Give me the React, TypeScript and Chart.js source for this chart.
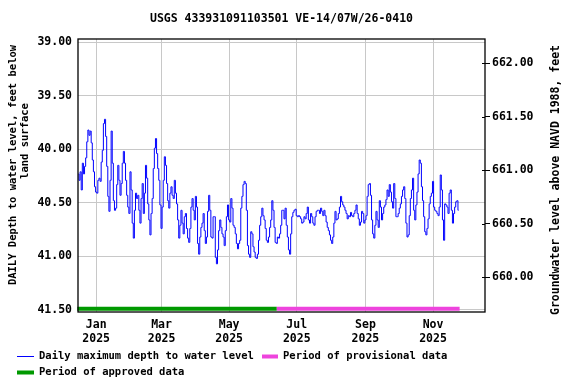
import React, { useEffect, useRef } from "react";
import { Chart, registerables } from "chart.js";

Chart.register(...registerables);

const TITLE = "USGS 433931091103501 VE-14/07W/26-0410";
const leftAxisTitle = ["DAILY Depth to water level, feet below", "land surface"];
const rightAxisTitle = "Groundwater level above NAVD 1988, feet";
const legendLabels = [
  "Daily maximum depth to water level",
  "Period of provisional data",
  "Period of approved data",
];

const seriesStart = "2024-12-16";
const dailyMaxDepthFt = [
  40.23, 40.29, 40.21, 40.38, 40.13, 40.23, 40.16, 40.08, 39.93, 39.82, 39.87, 39.83, 39.94, 40.10, 40.21, 40.35,
  40.40, 40.41, 40.29, 40.27, 40.30, 40.12, 40.01, 39.76, 39.72, 39.88, 40.16, 40.44, 40.58, 40.29, 39.83, 40.13,
  40.48, 40.57, 40.55, 40.33, 40.15, 40.29, 40.43, 40.32, 40.13, 40.02, 40.13, 40.29, 40.43, 40.54, 40.60, 40.21,
  40.38, 40.69, 40.83, 40.57, 40.41, 40.46, 40.43, 40.57, 40.69, 40.46, 40.32, 40.60, 40.41, 40.15, 40.27, 40.51,
  40.66, 40.80, 40.60, 40.46, 40.18, 39.99, 39.90, 40.04, 40.18, 40.29, 40.52, 40.74, 40.54, 40.29, 40.07, 40.15,
  40.32, 40.48, 40.55, 40.41, 40.35, 40.43, 40.46, 40.29, 40.41, 40.51, 40.66, 40.83, 40.71, 40.57, 40.69, 40.79,
  40.63, 40.60,
  40.74, 40.83, 40.87, 40.74, 40.54, 40.46, 40.57, 40.66, 40.44, 40.54, 40.88, 40.98, 40.82, 40.73, 40.69, 40.60,
  40.76, 40.88, 40.82, 40.58, 40.43, 40.57, 40.82, 40.83, 40.63, 40.63, 41.01, 41.07, 40.94, 40.76, 40.66, 40.73,
  40.79, 40.82, 40.90, 40.76, 40.63, 40.52, 40.66, 40.68, 40.46, 40.55, 40.71, 40.73, 40.79, 40.88, 40.93, 40.88,
  40.85, 40.55,
  40.44, 40.33, 40.30, 40.32, 40.57, 40.90, 40.98, 41.01, 40.77, 40.79, 40.91, 40.96, 41.01, 41.02, 40.98, 40.85,
  40.71, 40.63, 40.55, 40.62, 40.66, 40.74, 40.85, 40.87, 40.82, 40.73, 40.66, 40.48, 40.57, 40.73, 40.87, 40.88,
  40.82, 40.83, 40.79, 40.71, 40.57, 40.57, 40.65, 40.55, 40.71, 40.82, 40.94, 40.98, 40.79, 40.63, 40.59, 40.57,
  40.56,
  40.62, 40.63, 40.62, 40.63, 40.65, 40.69, 40.68, 40.63, 40.65, 40.60, 40.54, 40.66, 40.69, 40.60, 40.63, 40.69,
  40.71, 40.63, 40.58, 40.57, 40.57, 40.60, 40.55, 40.58, 40.62, 40.57, 40.62, 40.68, 40.73, 40.76, 40.80, 40.85,
  40.88, 40.82, 40.69, 40.58, 40.66, 40.65, 40.60, 40.54, 40.44, 40.49, 40.52, 40.54, 40.57, 40.60, 40.65, 40.62,
  40.63, 40.59,
  40.62, 40.63, 40.60, 40.57, 40.52, 40.60, 40.65, 40.71, 40.68, 40.58, 40.60, 40.69, 40.66, 40.62, 40.44, 40.33,
  40.32, 40.43, 40.66, 40.79, 40.83, 40.71, 40.58, 40.66, 40.73, 40.48, 40.54, 40.66, 40.60, 40.54, 40.52, 40.47,
  40.38, 40.44, 40.33, 40.40, 40.49, 40.55, 40.32, 40.46, 40.63, 40.63, 40.60, 40.55, 40.51, 40.44, 40.38, 40.35,
  40.46, 40.69,
  40.82, 40.80, 40.62, 40.46, 40.38, 40.27, 40.57, 40.66, 40.52, 40.40, 40.23, 40.10, 40.13, 40.35, 40.48, 40.63,
  40.77, 40.80, 40.74, 40.65, 40.51, 40.44, 40.41, 40.30, 40.54, 40.57, 40.58, 40.60, 40.62, 40.54, 40.24, 40.38,
  40.66, 40.85, 40.51, 40.52, 40.54, 40.60, 40.41, 40.38, 40.57, 40.69, 40.60, 40.54, 40.49, 40.48, 40.57,
];

const approvedPeriod = ["2024-12-15", "2025-06-13"];
const provisionalPeriod = ["2025-06-13", "2025-11-25"];
const monthTickDates = ["2025-01-01", "2025-03-01", "2025-05-01", "2025-07-01", "2025-09-01", "2025-11-01"];
const monthTickLabels = ["Jan", "Mar", "May", "Jul", "Sep", "Nov"];
const yearLabel = "2025";
const depthTicks = [39.0, 39.5, 40.0, 40.5, 41.0, 41.5];
const elevationTicks = [660.0, 660.5, 661.0, 661.5, 662.0];
const datumSum = 701.195; // elevation = datumSum - depth
const periodBarDepth = 41.49;

const dayOf = (iso: string) => {
  const [y, m, d] = iso.split("-").map(Number);
  return (Date.UTC(y, m - 1, d) - Date.UTC(2025, 0, 1)) / 86400000;
};

const X_MIN = -16.4;
const X_MAX = 350.9;
const Y_MIN = 38.97;
const Y_MAX = 41.52;

const FONT = "'DejaVu Sans Mono', monospace";
const BLUE = "#0000ff";
const GREEN = "#009900";
const PINK = "#ee44dd";

const decor = {
  id: "decor",
  afterDraw(chart: any) {
    const { ctx, chartArea: a } = chart;
    ctx.save();
    ctx.strokeStyle = "#000";
    ctx.lineWidth = 1.3;
    ctx.strokeRect(a.left, a.top, a.right - a.left, a.bottom - a.top);

    const y2 = chart.scales.y2;
    ctx.lineWidth = 1;
    elevationTicks.forEach((v) => {
      const py = Math.round(y2.getPixelForValue(v)) + 0.5;
      ctx.beginPath();
      ctx.moveTo(a.right - 3, py);
      ctx.lineTo(a.right, py);
      ctx.stroke();
    });

    ctx.fillStyle = "#000";
    ctx.textBaseline = "middle";
    ctx.textAlign = "center";
    ctx.font = `bold 11.5px ${FONT}`;
    ctx.fillText(TITLE, (a.left + a.right) / 2, 19);

    ctx.font = `bold 10.5px ${FONT}`;
    ctx.save();
    ctx.translate(13, 165);
    ctx.rotate(-Math.PI / 2);
    ctx.fillText(leftAxisTitle[0], 0, 0);
    ctx.restore();
    ctx.save();
    ctx.translate(25, 141);
    ctx.rotate(-Math.PI / 2);
    ctx.fillText(leftAxisTitle[1], 0, 0);
    ctx.restore();

    ctx.font = `bold 11.5px ${FONT}`;
    ctx.save();
    ctx.translate(556, 180);
    ctx.rotate(-Math.PI / 2);
    ctx.fillText(rightAxisTitle, 0, 0);
    ctx.restore();

    ctx.font = `bold 10.5px ${FONT}`;
    ctx.textAlign = "left";
    const row1 = 356.5;
    const row2 = 372.5;
    ctx.strokeStyle = BLUE;
    ctx.lineWidth = 1;
    ctx.beginPath();
    ctx.moveTo(17, row1);
    ctx.lineTo(34, row1);
    ctx.stroke();
    ctx.fillText(legendLabels[0], 39, row1);

    ctx.strokeStyle = PINK;
    ctx.lineWidth = 4;
    ctx.beginPath();
    ctx.moveTo(262, row1);
    ctx.lineTo(278, row1);
    ctx.stroke();
    ctx.fillText(legendLabels[1], 283, row1);

    ctx.strokeStyle = GREEN;
    ctx.beginPath();
    ctx.moveTo(17, row2);
    ctx.lineTo(34, row2);
    ctx.stroke();
    ctx.fillText(legendLabels[2], 39, row2);
    ctx.restore();
  },
};

export default function App() {
  const ref = useRef<HTMLCanvasElement>(null);
  useEffect(() => {
    const start = dayOf(seriesStart);
    const seriesPoints = dailyMaxDepthFt.map((v, i) => ({ x: start + i, y: v }));
    const barPoints = (p: string[]) => p.map((d) => ({ x: dayOf(d), y: periodBarDepth }));
    const tickFont = { family: FONT, size: 11.5, weight: "bold" as const };

    const chart = new Chart(ref.current!, {
      type: "line",
      data: {
        datasets: [
          {
            label: legendLabels[0],
            data: seriesPoints,
            borderColor: BLUE,
            borderWidth: 1,
            pointRadius: 0,
            stepped: "middle",
            yAxisID: "y",
          },
          {
            label: legendLabels[1],
            data: barPoints(provisionalPeriod),
            borderColor: PINK,
            borderWidth: 4,
            pointRadius: 0,
            borderCapStyle: "butt",
            clip: false as any,
            yAxisID: "y",
          },
          {
            label: legendLabels[2],
            data: barPoints(approvedPeriod),
            borderColor: GREEN,
            borderWidth: 4,
            pointRadius: 0,
            borderCapStyle: "butt",
            clip: false as any,
            yAxisID: "y",
          },
        ],
      },
      options: {
        animation: false,
        responsive: false,
        parsing: false as any,
        layout: { padding: { top: 39, left: 0, right: 0, bottom: 0 } },
        plugins: {
          legend: { display: false },
          title: { display: false },
          tooltip: { enabled: false },
        },
        scales: {
          x: {
            type: "linear",
            min: X_MIN,
            max: X_MAX,
            afterBuildTicks: (s: any) => {
              s.ticks = monthTickDates.map((d) => ({ value: dayOf(d) }));
            },
            afterFit: (s: any) => {
              s.height = 72;
            },
            ticks: {
              autoSkip: false,
              maxRotation: 0,
              padding: 6,
              color: "#000",
              font: tickFont,
              callback: (_v: any, i: number) => [monthTickLabels[i], yearLabel],
            },
            grid: { color: "#c8c8c8", lineWidth: 1, drawTicks: false },
            border: { display: false },
          },
          y: {
            type: "linear",
            position: "left",
            reverse: true,
            min: Y_MIN,
            max: Y_MAX,
            afterBuildTicks: (s: any) => {
              s.ticks = depthTicks.map((v) => ({ value: v }));
            },
            afterFit: (s: any) => {
              s.width = 78;
            },
            ticks: {
              padding: 6,
              color: "#000",
              font: tickFont,
              callback: (v: any) => Number(v).toFixed(2),
            },
            grid: { color: "#c8c8c8", lineWidth: 1, drawTicks: false },
            border: { display: false },
          },
          y2: {
            type: "linear",
            position: "right",
            min: datumSum - Y_MAX,
            max: datumSum - Y_MIN,
            afterBuildTicks: (s: any) => {
              s.ticks = elevationTicks.map((v) => ({ value: v }));
            },
            afterFit: (s: any) => {
              s.width = 91;
            },
            ticks: {
              padding: 2,
              color: "#000",
              font: tickFont,
              callback: (v: any) => Number(v).toFixed(2),
            },
            grid: { color: "#000", lineWidth: 1, drawOnChartArea: false, drawTicks: true, tickLength: 5 },
            border: { display: false },
          },
        },
      },
      plugins: [decor],
    });
    return () => chart.destroy();
  }, []);

  return (
    <div style={{ position: "fixed", left: 0, top: 0, width: 576, height: 384, background: "#fff" }}>
      <canvas ref={ref} width={576} height={384} style={{ width: 576, height: 384, display: "block" }} />
    </div>
  );
}
